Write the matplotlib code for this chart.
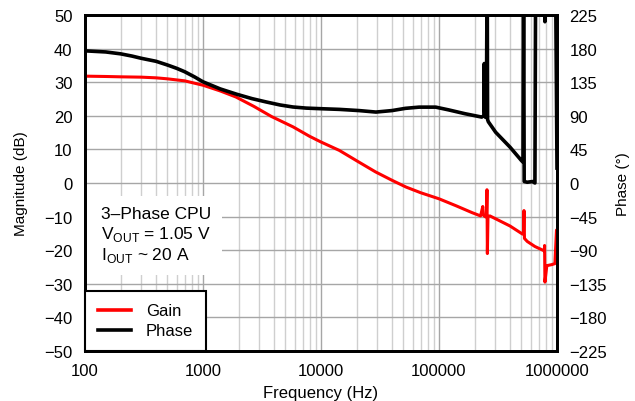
import matplotlib
matplotlib.use("Agg")
import matplotlib.pyplot as plt
from matplotlib.ticker import FixedLocator, NullFormatter, LogLocator
from matplotlib.lines import Line2D
from matplotlib.patches import Rectangle

plt.rcParams['font.family'] = ['Liberation Sans', 'DejaVu Sans']
plt.rcParams['mathtext.fontset'] = 'custom'
plt.rcParams['mathtext.rm'] = 'Liberation Sans'
plt.rcParams['axes.unicode_minus'] = True

# ---- data ----
gain_freq = [100, 150, 200, 300, 400, 500, 700, 1000, 1400, 1900, 2700, 3800,
             5800, 8000, 10000, 14300, 21000, 29000, 40000, 52500, 70000,
             100000, 140000, 190000, 225000, 235000, 238000, 245000, 252000,
             255000, 257000, 260000, 270000, 300000, 400000, 510000, 520000,
             525000, 530000, 560000, 650000, 780000, 785000, 790000, 820000,
             900000, 960000, 990000, 1000000]
gain_db = [31.8, 31.7, 31.6, 31.5, 31.3, 31.0, 30.4, 29.1, 27.4, 25.6, 22.8, 19.8,
           16.7, 13.9, 12.2, 9.7, 6.2, 3.3, 0.8, -1.2, -2.9,
           -4.7, -6.8, -8.8, -9.8, -7.0, -9.6, -10.0, -10.1,
           -2.0, -21.0, -10.0, -9.8, -10.6, -12.8, -15.2, -14.6,
           -8.2, -16.5, -17.4, -18.9, -20.2, -18.6, -29.5, -24.6,
           -24.3, -24.0, -14.0, -14.0]

phase_freq = [100, 150, 200, 250, 300, 400, 500, 600, 700, 850, 1000, 1400,
              1920, 2600, 3440, 4500, 5780, 7500,
              10000, 14300, 21000, 29200, 40000, 52000, 67800, 93800, 120000,
              166000, 230000, 240000, 242000, 244000, 248000, 250000, 252000,
              256000, 258000, 262000, 302000, 400000, 500000, 515000, 521000,
              527000, 560000, 620000, 650000, 660000, 780000, 790000, 800000,
              970000, 1000000]
phase_deg = [177, 175.5, 173, 170, 167, 163, 158, 153.5, 149, 142, 135.5, 126,
             119, 113, 108.5, 104.5, 101.8, 100.3,
             99.5, 98.6, 97, 95, 97, 100, 101.6, 101.6, 98,
             92.8, 88.3, 90, 160, 95, 88, 160, 88,
             300, 85, 82, 68, 48, 30, 28, 300,
             2, 1, 2, 0, 300, 300, 216, 300,
             300, 20]

gain_ticks = [-50, -40, -30, -20, -10, 0, 10, 20, 30, 40, 50]
phase_ticks = [-225, -180, -135, -90, -45, 0, 45, 90, 135, 180, 225]
freq_ticks = [100, 1000, 10000, 100000, 1000000]
freq_labels = ['100', '1000', '10000', '100000', '1000000']

# ---- figure ----
fig = plt.figure(figsize=(6.35, 4.02), dpi=100)
ax = fig.add_axes([85/635, 1-352/402, 472/635, 336/402])
ax2 = ax.twinx()

fs = 12
ax.set_xscale('log')
ax.set_xlim(100, 1000000)
ax.set_ylim(-50, 50)
ax.xaxis.set_major_locator(FixedLocator(freq_ticks))
ax.set_xticklabels(freq_labels)
ax.xaxis.set_minor_locator(LogLocator(base=10, subs=range(2, 10), numticks=50))
ax.xaxis.set_minor_formatter(NullFormatter())
ax.set_yticks(gain_ticks)
ax.set_yticklabels([str(v).replace('-', '\u2212') for v in gain_ticks])
ax.grid(True, which='major', color='#a6a6a6', lw=1.0)
ax.grid(True, which='minor', axis='x', color='#cfcfcf', lw=1.0)
ax.set_axisbelow(True)
ax.tick_params(which='both', length=0, labelsize=fs, pad=9)
ax.tick_params(axis='x', pad=9)

ax2.set_ylim(-225, 225)
ax2.set_yticks(phase_ticks)
ax2.set_yticklabels([str(v).replace('-', '\u2212') for v in phase_ticks])
ax2.tick_params(which='both', length=0, labelsize=fs, pad=9)

for a in (ax, ax2):
    for s in a.spines.values():
        s.set_linewidth(2.0)
        s.set_color('black')

# white box behind annotation
ax.add_patch(Rectangle((0, 0.226), 0.29, 0.235, transform=ax.transAxes,
                       facecolor='white', edgecolor='none', zorder=1.5))

ax.plot(gain_freq, gain_db, color='#ff0000', lw=2.2, zorder=3)
ax2.plot(phase_freq, phase_deg, color='black', lw=2.6, zorder=3)

ax.set_xlabel('Frequency (Hz)', fontsize=12)
ax.set_ylabel('Magnitude (dB)', fontsize=11)
ax2.set_ylabel('Phase (\u00b0)', fontsize=11)
ax.xaxis.set_label_coords(0.5, -0.101)
ax.yaxis.set_label_coords(-0.1356, 0.5)
ax2.yaxis.set_label_coords(1.140, 0.5)
ax.yaxis.label.set_va('center')
ax2.yaxis.label.set_va('center')

tx = 0.034
ax2.text(tx, 0.396, '3\u2013Phase CPU', transform=ax.transAxes, fontsize=12.5, va='baseline')
ax2.text(tx, 0.336, 'V$_\\mathregular{OUT}$ = 1.05 V', transform=ax.transAxes, fontsize=12.5, va='baseline')
ax2.text(tx, 0.275, 'I$_\\mathregular{OUT}$ ~ 20 A', transform=ax.transAxes, fontsize=12.5, va='baseline')

handles = [Line2D([], [], color='#ff0000', lw=2.6), Line2D([], [], color='black', lw=2.6)]
leg = ax2.legend(handles, ['Gain', 'Phase'], loc='lower left', bbox_to_anchor=(0, 0),
                 bbox_transform=ax.transAxes, borderaxespad=0, fancybox=False,
                 framealpha=1, edgecolor='black', fontsize=12, handlelength=2.0,
                 borderpad=0.75, labelspacing=0.3, handletextpad=0.9)
leg.get_frame().set_linewidth(1.5)

fig.savefig('out.png', dpi=100)
